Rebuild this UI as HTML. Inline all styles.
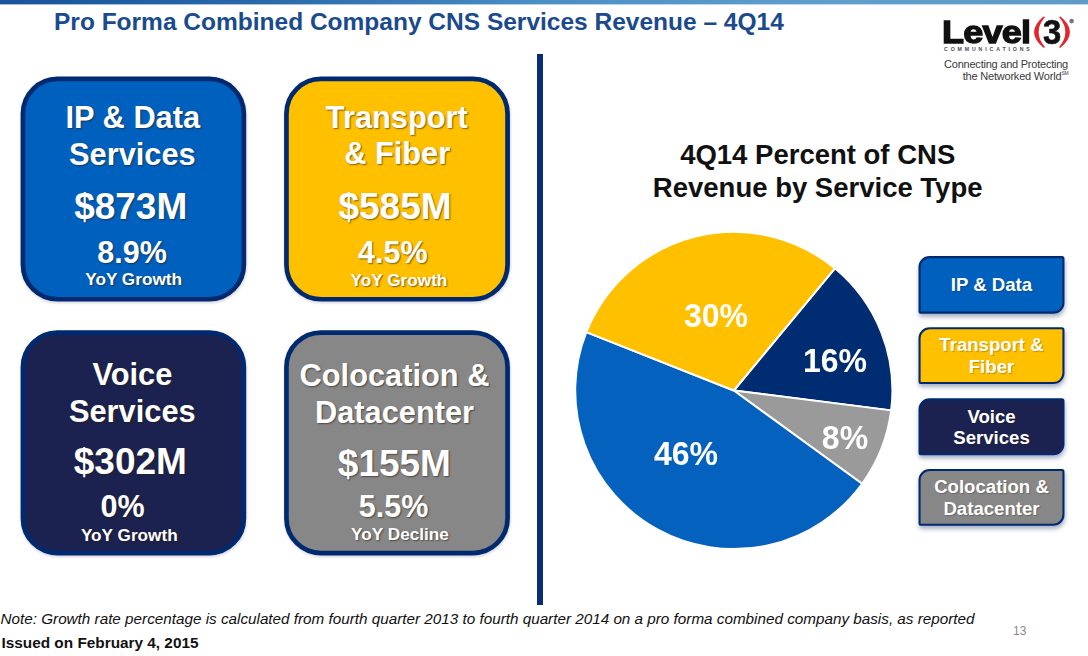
<!DOCTYPE html>
<html><head><meta charset="utf-8">
<style>
*{margin:0;padding:0;box-sizing:border-box}
html,body{width:1088px;height:656px;overflow:hidden;background:#fff;font-family:"Liberation Sans",sans-serif}
.abs{position:absolute}
#bar{position:absolute;left:0;top:0;width:1088px;height:4px;background:linear-gradient(to right,#17549a 0%,#2a6aaa 25%,#4a8fc5 50%,#5e9ecd 75%,#5f9bc8 100%)}
#bar2{position:absolute;left:0;top:4px;width:1088px;height:1px;opacity:0.4;background:linear-gradient(to right,#17549a 0%,#2a6aaa 25%,#4a8fc5 50%,#5e9ecd 75%,#5f9bc8 100%)}
#title{position:absolute;left:54px;top:9.5px;font-size:24.5px;font-weight:bold;color:#1b4a8d;white-space:nowrap;line-height:1}
.box{position:absolute;border:4.6px solid #032a70;border-radius:37px;box-shadow:0.5px 1.5px 2px rgba(0,20,60,0.22)}
.t{position:absolute;text-align:center;color:#fff;font-weight:bold;line-height:1;white-space:nowrap;text-shadow:1px 1px 1.5px rgba(40,30,20,0.6)}
#vline{position:absolute;left:537px;top:54px;width:6px;height:551px;background:#0a2b77}
#ctitle{position:absolute;left:617.7px;width:400px;text-align:center;font-weight:bold;font-size:27.5px;color:#111;line-height:33px;top:137.8px;white-space:nowrap}
.leg{position:absolute;left:919px;width:145px;height:57px;border:2px solid #0b2c7c;border-radius:12px 0 12px 0;box-shadow:0 3px 3px rgba(60,70,120,0.35)}
.lt{position:absolute;left:919px;width:145px;text-align:center;color:#fff;font-weight:bold;font-size:18.6px;line-height:1;white-space:nowrap;text-shadow:1px 1px 1px rgba(40,30,20,0.28)}
.pl{position:absolute;width:100px;text-align:center;color:#fff;font-weight:bold;font-size:33px;line-height:1;white-space:nowrap;transform:scaleX(0.97)}
#note{position:absolute;left:0.5px;top:610.6px;font-size:15.25px;font-style:italic;color:#111;white-space:nowrap;line-height:1}
#issued{position:absolute;left:1.5px;top:634.5px;font-size:15.35px;font-weight:bold;color:#111;white-space:nowrap;line-height:1}
#pg{position:absolute;left:1013px;top:625.2px;font-size:12px;color:#8a8a8a;line-height:1}
.lv{position:absolute;font-weight:bold;color:#111;line-height:1;white-space:nowrap}
</style></head><body>
<div id="bar"></div><div id="bar2"></div>
<div id="title">Pro Forma Combined Company CNS Services Revenue – 4Q14</div>

<div class="lv" style="left:942px;top:16.4px;font-size:32.2px;letter-spacing:-0.7px;-webkit-text-stroke:1.3px #111;transform:scaleX(1.12);transform-origin:0 0">Level</div>
<svg class="abs" style="left:0;top:0" width="1088" height="60">
 <path d="M1043.5,16.5 Q1024.6,32.1 1043.5,47.7 L1045,47.2 Q1032.2,32.1 1045,17 Z" fill="#e0262b"/>
 <path d="M1060.5 16.5 Q1079.4 32.1 1060.5 47.7 L1059.0 47.2 Q1071.8 32.1 1059.0 17.0 Z" fill="#e0262b"/>
 <circle cx="1071.6" cy="21.1" r="2.3" fill="#777"/>
</svg>
<div class="lv" style="left:1042.5px;top:15.2px;font-size:34.5px;-webkit-text-stroke:0.6px #111;transform:scaleX(0.95);transform-origin:0 0">3</div>
<div class="lv" style="left:944px;top:46.8px;font-size:5.2px;letter-spacing:2.88px;color:#4a4a4a">COMMUNICATIONS</div>
<div class="lv" style="right:20px;top:58.6px;font-size:11px;font-weight:normal;color:#3a3a3a;letter-spacing:-0.23px">Connecting and Protecting</div>
<div class="lv" style="right:19.5px;top:70.8px;font-size:11px;font-weight:normal;color:#3a3a3a;letter-spacing:-0.2px">the Networked World<span style="font-size:5px;vertical-align:5px">SM</span></div>

<svg class="abs" style="left:0;top:0" width="1088" height="656">
 <defs>
  <filter id="bs" x="-10%" y="-10%" width="120%" height="120%"><feDropShadow dx="0.5" dy="1.5" stdDeviation="1.2" flood-color="#1a2a50" flood-opacity="0.2"/></filter>
  <filter id="ls" x="-10%" y="-20%" width="120%" height="150%"><feDropShadow dx="0.6" dy="3.2" stdDeviation="2" flood-color="#3a5080" flood-opacity="0.45"/></filter>
 </defs>
 <g filter="url(#bs)" stroke="#032a70" stroke-width="4.7">
  <rect x="22.95" y="78.95" width="220.9" height="220.3" rx="34.6" fill="#0561be"/>
  <rect x="286.45" y="78.95" width="221.1" height="220.3" rx="34.6" fill="#ffc000"/>
  <rect x="22.95" y="332.55" width="220.9" height="220.5" rx="34.6" fill="#1a2150"/>
  <rect x="286.45" y="332.55" width="221.1" height="220.5" rx="34.6" fill="#878787"/>
 </g>
 <g filter="url(#ls)" stroke="#032a70" stroke-width="2.1">
  <path d="M919.55,267.15 A10,10 0 0 1 929.55,257.15 L1061.95,257.15 A1.5,1.5 0 0 1 1063.45,258.65 L1063.45,302.65 A10,10 0 0 1 1053.45,312.65 L921.05,312.65 A1.5,1.5 0 0 1 919.55,311.15 Z" fill="#0561be"/>
  <path d="M919.55,338.25 A10,10 0 0 1 929.55,328.25 L1061.95,328.25 A1.5,1.5 0 0 1 1063.45,329.75 L1063.45,373.05 A10,10 0 0 1 1053.45,383.05 L921.05,383.05 A1.5,1.5 0 0 1 919.55,381.55 Z" fill="#ffc000"/>
  <path d="M919.55,409.35 A10,10 0 0 1 929.55,399.35 L1061.95,399.35 A1.5,1.5 0 0 1 1063.45,400.85 L1063.45,444.25 A10,10 0 0 1 1053.45,454.25 L921.05,454.25 A1.5,1.5 0 0 1 919.55,452.75 Z" fill="#1a2150"/>
  <path d="M919.55,480.05 A10,10 0 0 1 929.55,470.05 L1061.95,470.05 A1.5,1.5 0 0 1 1063.45,471.55 L1063.45,514.75 A10,10 0 0 1 1053.45,524.75 L921.05,524.75 A1.5,1.5 0 0 1 919.55,523.25 Z" fill="#878787"/>
 </g>
</svg>
<div class="t" style="left:-17.2px;width:300px;top:103.3px;font-size:30.8px">IP &amp; Data</div>
<div class="t" style="left:-17.6px;width:300px;top:139.5px;font-size:30.8px">Services</div>
<div class="t" style="left:-19.3px;width:300px;top:187.6px;font-size:37px">$873M</div>
<div class="t" style="left:-18.0px;width:300px;top:236.5px;font-size:30.5px">8.9%</div>
<div class="t" style="left:-16.4px;width:300px;top:271.4px;font-size:17.2px">YoY Growth</div>
<div class="t" style="left:246.8px;width:300px;top:102.7px;font-size:30.8px">Transport</div>
<div class="t" style="left:247.2px;width:300px;top:139.3px;font-size:30.8px">&amp; Fiber</div>
<div class="t" style="left:245.0px;width:300px;top:187.6px;font-size:37px">$585M</div>
<div class="t" style="left:242.8px;width:300px;top:236.7px;font-size:30.5px">4.5%</div>
<div class="t" style="left:249.0px;width:300px;top:271.6px;font-size:17.2px">YoY Growth</div>
<div class="t" style="left:-17.6px;width:300px;top:360.3px;font-size:30.8px">Voice</div>
<div class="t" style="left:-17.7px;width:300px;top:397.2px;font-size:30.8px">Services</div>
<div class="t" style="left:-19.7px;width:300px;top:442.5px;font-size:37px">$302M</div>
<div class="t" style="left:-27.4px;width:300px;top:491.0px;font-size:30.5px">0%</div>
<div class="t" style="left:-20.7px;width:300px;top:526.6px;font-size:17.2px">YoY Growth</div>
<div class="t" style="left:244.5px;width:300px;top:360.9px;font-size:30.8px">Colocation &amp;</div>
<div class="t" style="left:244.5px;width:300px;top:397.9px;font-size:30.8px">Datacenter</div>
<div class="t" style="left:244.4px;width:300px;top:444.5px;font-size:37px">$155M</div>
<div class="t" style="left:243.6px;width:300px;top:491.0px;font-size:30.5px">5.5%</div>
<div class="t" style="left:250.0px;width:300px;top:526.2px;font-size:17.2px">YoY Decline</div>

<div id="vline"></div>

<div id="ctitle">4Q14 Percent of CNS<br>Revenue by Service Type</div>

<svg class="abs" style="left:0;top:0" width="1088" height="656">
 <g stroke="#fff" stroke-width="2" stroke-linejoin="round">
  <path fill="#002d72" d="M733.8,390.5 L834.90,268.30 A158.6,158.6 0 0 1 891.15,410.38 Z"/>
  <path fill="#9a9a9a" d="M733.8,390.5 L891.15,410.38 A158.6,158.6 0 0 1 862.11,483.72 Z"/>
  <path fill="#0561be" d="M733.8,390.5 L862.11,483.72 A158.6,158.6 0 0 1 586.34,332.12 Z"/>
  <path fill="#ffc000" d="M733.8,390.5 L586.34,332.12 A158.6,158.6 0 0 1 834.90,268.30 Z"/>
 </g>
</svg>
<div class="pl" style="left:666.4px;top:298.9px">30%</div>
<div class="pl" style="left:785.4px;top:343.9px">16%</div>
<div class="pl" style="left:795.0px;top:420.7px">8%</div>
<div class="pl" style="left:635.8px;top:437.3px">46%</div>

<div class="lt" style="top:276.3px">IP &amp; Data</div>
<div class="lt" style="top:335.7px">Transport &amp;</div>
<div class="lt" style="top:357.7px">Fiber</div>
<div class="lt" style="top:407.5px">Voice</div>
<div class="lt" style="top:429.4px">Services</div>
<div class="lt" style="top:478.3px">Colocation &amp;</div>
<div class="lt" style="top:499.8px">Datacenter</div>

<div id="note">Note: Growth rate percentage is calculated from fourth quarter 2013 to fourth quarter 2014 on a pro forma combined company basis, as reported</div>
<div id="issued">Issued on February 4, 2015</div>
<div id="pg">13</div>
</body></html>
